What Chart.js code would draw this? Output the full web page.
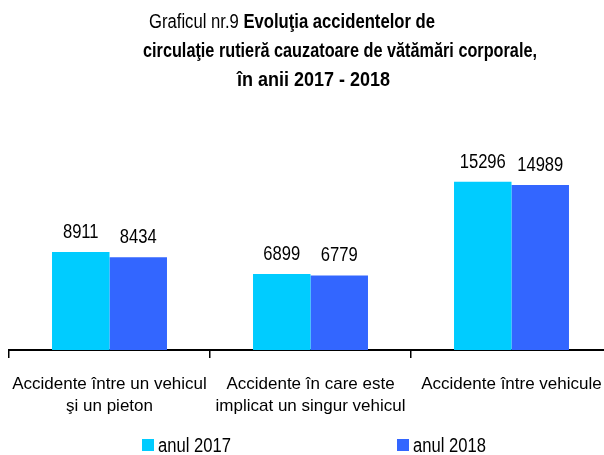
<!DOCTYPE html>
<html>
<head>
<meta charset="utf-8">
<script src="https://cdn.jsdelivr.net/npm/chart.js@4"></script>
<style>
  html, body { margin: 0; padding: 0; background: #fff; overflow: hidden; }
  #cadru { position: relative; width: 620px; height: 455px; }
  #cadru canvas { position: absolute; left: 0; top: 0; }
  .titlu, .leg-text {
    position: absolute; white-space: nowrap; color: #000;
    font-family: 'Liberation Sans', Arial, sans-serif;
    font-size: 20px; line-height: 20px;
    transform-origin: 0 0;
  }
  .titlu b { font-weight: bold; }
  .leg-box { position: absolute; width: 12px; height: 12px; }
</style>
</head>
<body>
<div id="cadru">
  <canvas id="grafic" width="620" height="455"></canvas>
  <div class="titlu" data-w="286" style="left:149px; top:11px">Graficul nr.9 <b>Evoluţia accidentelor de</b></div>
  <div class="titlu" data-w="394" style="left:143px; top:40px"><b>circulaţie rutieră cauzatoare de vătămări corporale,</b></div>
  <div class="titlu" data-w="153" style="left:237px; top:69px"><b>în anii 2017 - 2018</b></div>
  <div id="legenda"></div>
</div>
<script>
// ── Date ──────────────────────────────────────
const categorii = [
  ['Accidente între un vehicul', 'şi un pieton'],
  ['Accidente în care este', 'implicat un singur vehicul'],
  ['Accidente între vehicule']
]
const ani     = ['anul 2017', 'anul 2018']
const val2017 = [8911, 6899, 15296]
const val2018 = [8434, 6779, 14989]
const culori  = ['#00CCFF', '#3366FF']

const FONT   = "'Liberation Sans', Arial, sans-serif"
const INGUST = 0.83   // imitatie Arial Narrow (nu exista fontul)

// titlul: comprimat pe orizontala ca sa aiba latimea din original
document.querySelectorAll('.titlu').forEach(el => {
  const w = el.getBoundingClientRect().width
  el.style.transform = `scaleX(${el.dataset.w / w})`
})

// ── Etichete valori deasupra barelor ──────────
const eticheteValori = {
  id: 'eticheteValori',
  afterDatasetsDraw(chart) {
    const ctx = chart.ctx
    ctx.save()
    ctx.font = '20px ' + FONT
    ctx.fillStyle = '#000'
    ctx.textAlign = 'center'
    ctx.textBaseline = 'alphabetic'
    chart.data.datasets.forEach((ds, i) => {
      chart.getDatasetMeta(i).data.forEach((bar, j) => {
        ctx.save()
        ctx.translate(bar.x, bar.y - 14)
        ctx.scale(INGUST, 1)
        ctx.fillText(String(ds.data[j]), 0, 0)
        ctx.restore()
      })
    })
    ctx.restore()
  }
}

const grafic = new Chart(document.getElementById('grafic'), {
  type: 'bar',
  data: {
    labels: categorii,
    datasets: [
      { label: ani[0], data: val2017, backgroundColor: culori[0] },
      { label: ani[1], data: val2018, backgroundColor: culori[1] }
    ]
  },
  options: {
    responsive: false,
    animation: false,
    layout: { padding: { left: 9, right: 8, top: 130, bottom: 0 } },
    datasets: { bar: { categoryPercentage: 0.572, barPercentage: 1.0 } },
    plugins: { legend: { display: false }, title: { display: false }, tooltip: { enabled: false } },
    scales: {
      x: {
        grid: { drawOnChartArea: false, drawTicks: true, tickLength: 8, color: '#000', lineWidth: 1.5, offset: true },
        border: { display: true, color: '#000', width: 2 },
        ticks: { color: '#000', padding: 15, maxRotation: 0, autoSkip: false,
                 font: { family: FONT, size: 17, lineHeight: 1.3 } },
        // axa fixa la y=350, fara spatiu lateral adaugat pentru etichete
        afterFit: (scale) => {
          scale.height = 105
          scale.paddingLeft = 0
          scale.paddingRight = 0
        }
      },
      y: { display: false, min: 0, max: 20000 }
    }
  },
  plugins: [eticheteValori]
})

// ── Legenda HTML ──────────────────────────────
const pozLegenda = [142, 397]
const legenda = document.getElementById('legenda')
ani.forEach((eticheta, i) => {
  const box = document.createElement('div')
  box.className = 'leg-box'
  box.style.left = pozLegenda[i] + 'px'
  box.style.top = '439px'
  box.style.background = culori[i]
  legenda.appendChild(box)
  const txt = document.createElement('div')
  txt.className = 'leg-text'
  txt.style.left = (pozLegenda[i] + 16) + 'px'
  txt.style.top = '435px'
  txt.style.transform = `scaleX(${INGUST})`
  txt.textContent = eticheta
  legenda.appendChild(txt)
})
</script>
</body>
</html>
